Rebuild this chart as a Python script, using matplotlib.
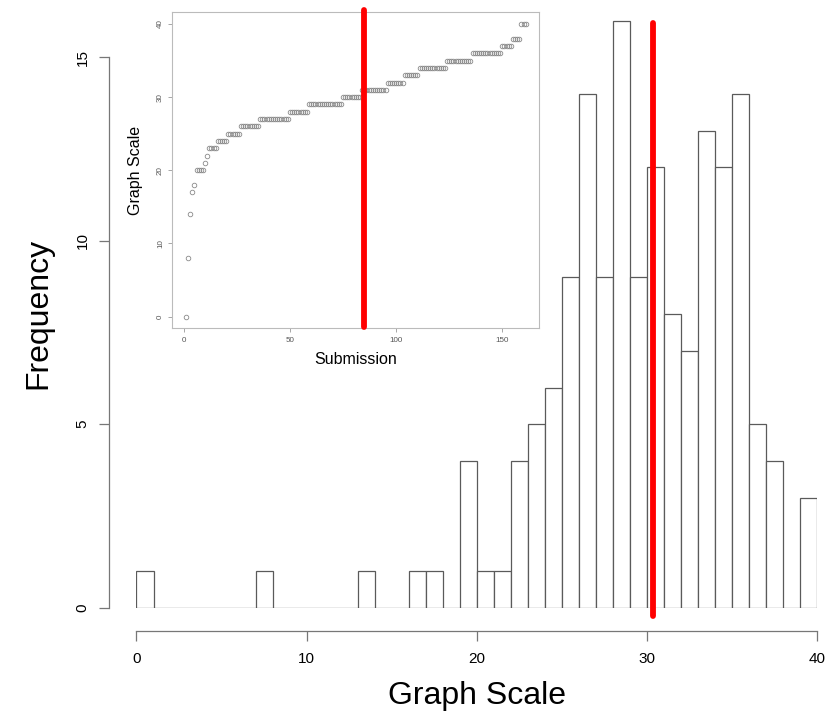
import numpy as np
import matplotlib
matplotlib.use('Agg')
import matplotlib.pyplot as plt

plt.rcParams['font.family'] = ['Liberation Sans', 'DejaVu Sans']

# distinct graph-scale scores and how many submissions gave each
score_levels = [0, 8, 14, 17, 18, 20, 21, 22, 23, 24, 25, 26, 27, 28, 29,
                30, 31, 32, 33, 34, 35, 36, 37, 38, 40]
score_counts = [1, 1, 1, 1, 1, 4, 1, 1, 4, 5, 6, 9, 14, 9, 16,
                9, 12, 8, 7, 13, 12, 14, 5, 4, 3]

main_ticks_x = [0, 10, 20, 30, 40]
main_ticks_y = [0, 5, 10, 15]
inset_ticks_x = [0, 50, 100, 150]
inset_ticks_y = [0, 10, 20, 30, 40]

marker_x_main = 30.35   # red line on histogram
marker_x_inset = 84.8   # red line on sorted submissions

scores = np.repeat(score_levels, score_counts)

# R-style hist: right-closed bins, lowest included
edges = np.arange(0, 41)
idx = np.clip(np.searchsorted(edges, scores, side='left') - 1, 0, None)
bin_counts = np.bincount(idx, minlength=len(edges) - 1)

W, H = 829, 711
fig = plt.figure(figsize=(W / 100, H / 100), dpi=100)

# main histogram
px_left, px_right = 136.5, 816.7
px_y0, px_unit = 607.7, 36.7
ytop = 16.4
ax = fig.add_axes([px_left / W, (H - px_y0) / H,
                   (px_right - px_left) / W, ytop * px_unit / H])
ax.bar(edges[:-1], bin_counts, width=1, align='edge', facecolor='white',
       edgecolor='#5a5a5a', linewidth=0.9)
ax.set_xlim(0, 40)
ax.set_ylim(0, ytop)

axis_col = '#777777'
for s in ['top', 'right']:
    ax.spines[s].set_visible(False)
ax.spines['left'].set_position(('outward', 19.8))
ax.spines['bottom'].set_position(('outward', 16.6))
ax.spines['left'].set_bounds(0, 15)
ax.spines['bottom'].set_bounds(0, 40)
for s in ['left', 'bottom']:
    ax.spines[s].set_color(axis_col)
    ax.spines[s].set_linewidth(0.9)
ax.set_xticks(main_ticks_x)
ax.set_yticks(main_ticks_y)
ax.tick_params(axis='both', direction='out', length=7, width=0.9,
               color=axis_col, labelsize=11)
ax.tick_params(axis='x', pad=8)
ax.tick_params(axis='y', pad=7)
for lab in ax.get_yticklabels():
    lab.set_rotation(90)
    lab.set_va('center')

ax.plot([marker_x_main, marker_x_main], [-0.22, 15.94], color='red', lw=4.2,
        solid_capstyle='round', clip_on=False, zorder=5)

fig.text(38 / W, 1 - 313 / H, 'Frequency', rotation=90, ha='center',
         va='center', fontsize=23)
fig.text(477 / W, 1 - 704 / H, 'Graph Scale', ha='center', va='baseline',
         fontsize=23)

# inset: sorted scores per submission
ix0, ix1, iy0, iy1 = 172.3, 539.3, 12.3, 328.3
axi = fig.add_axes([ix0 / W, (H - iy1) / H, (ix1 - ix0) / W, (iy1 - iy0) / H])
axi.set_facecolor('white')
sub = np.arange(1, len(scores) + 1)
axi.plot(sub, np.sort(scores), 'o', mfc='none', mec='#8a8a8a', ms=3.3,
         mew=0.6)
n = len(scores)
pad_x = 0.04 * (n - 1)
axi.set_xlim(1 - pad_x, n + pad_x)
axi.set_ylim(-1.6, 41.6)
for s in axi.spines.values():
    s.set_color('#bbbbbb')
    s.set_linewidth(0.8)
axi.set_xticks(inset_ticks_x)
axi.set_yticks(inset_ticks_y)
axi.tick_params(axis='both', direction='out', length=3, width=0.6,
                color='#999999', labelsize=5.8, labelcolor='#555555', pad=3)
for lab in axi.get_yticklabels():
    lab.set_rotation(90)
    lab.set_va('center')

axi.plot([marker_x_inset, marker_x_inset], [-1.49, 41.9], color='red',
         lw=4.2, solid_capstyle='round', clip_on=False, zorder=5)

fig.text(136 / W, 1 - 170 / H, 'Graph Scale', rotation=90, ha='center',
         va='center', fontsize=11.5)
fig.text(356 / W, 1 - 360 / H, 'Submission', ha='center', va='center',
         fontsize=11.5)

fig.savefig('out.png', dpi=100)
